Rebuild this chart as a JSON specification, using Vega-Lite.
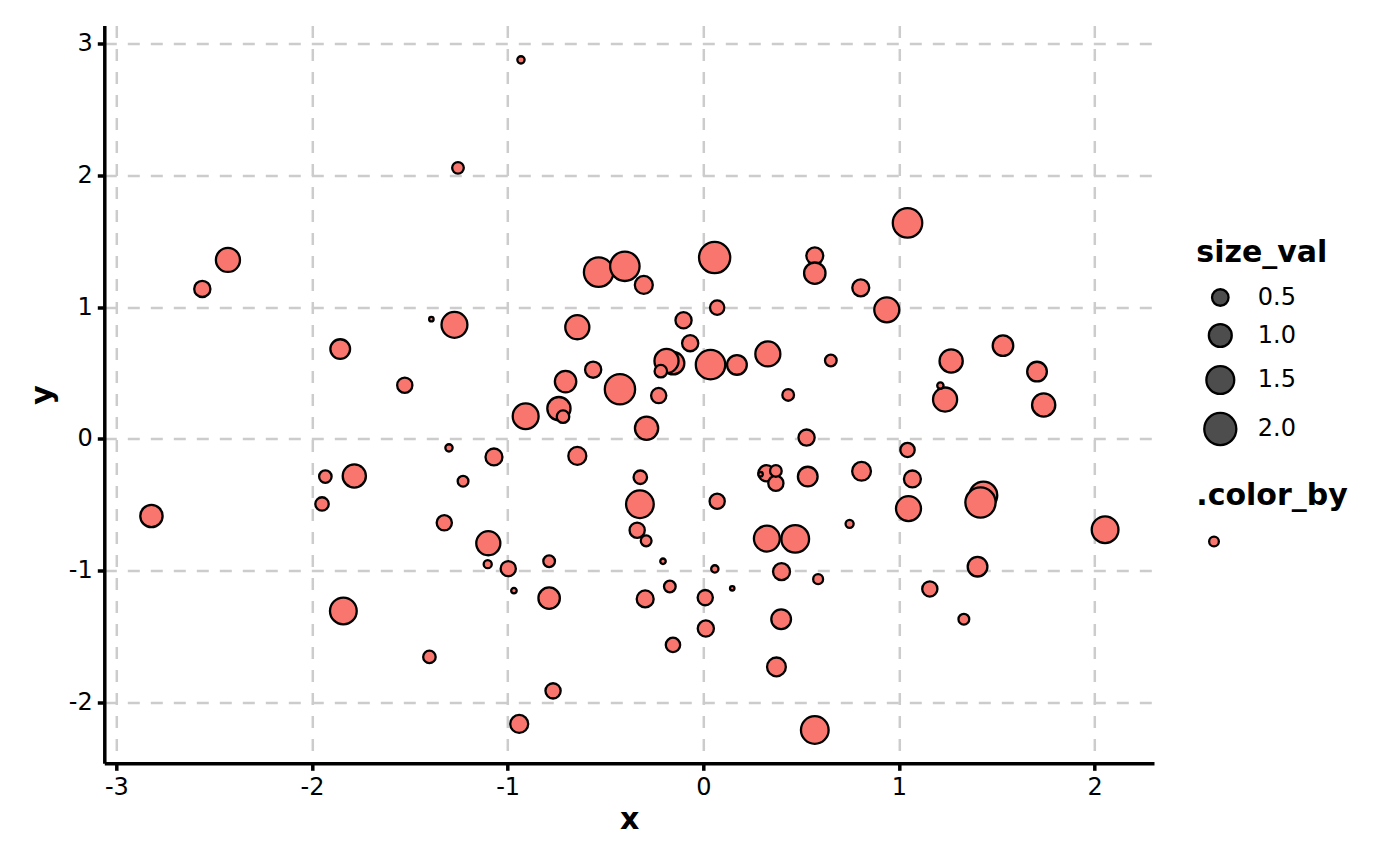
{
  "$schema": "https://vega.github.io/schema/vega-lite/v6.json",
  "width": 1049.7,
  "height": 737.8,
  "autosize": {"type": "none"},
  "padding": {"left": 104.3, "top": 25.5, "right": 246, "bottom": 102.7},
  "background": "white",
  "config": {"view": {"stroke": null}, "font": "DejaVu Sans"},
  "data": {"values": [
    {"x":-2.821,"y":-0.585,"size_val":0.95,"color_by":""},
    {"x":-2.561,"y":1.139,"size_val":0.48,"color_by":""},
    {"x":-2.430,"y":1.359,"size_val":1.11,"color_by":""},
    {"x":-1.856,"y":0.682,"size_val":0.73,"color_by":""},
    {"x":-1.526,"y":0.408,"size_val":0.42,"color_by":""},
    {"x":-1.932,"y":-0.286,"size_val":0.27,"color_by":""},
    {"x":-1.949,"y":-0.494,"size_val":0.32,"color_by":""},
    {"x":-1.784,"y":-0.281,"size_val":1.03,"color_by":""},
    {"x":-1.840,"y":-1.306,"size_val":1.38,"color_by":""},
    {"x":-1.254,"y":2.058,"size_val":0.23,"color_by":""},
    {"x":-0.932,"y":2.878,"size_val":0.065,"color_by":""},
    {"x":-1.390,"y":0.909,"size_val":0.0,"color_by":""},
    {"x":-1.272,"y":0.866,"size_val":1.29,"color_by":""},
    {"x":-1.300,"y":-0.068,"size_val":0.065,"color_by":""},
    {"x":-1.228,"y":-0.321,"size_val":0.19,"color_by":""},
    {"x":-1.324,"y":-0.637,"size_val":0.42,"color_by":""},
    {"x":-1.070,"y":-0.137,"size_val":0.53,"color_by":""},
    {"x":-1.400,"y":-1.655,"size_val":0.27,"color_by":""},
    {"x":-1.099,"y":-0.792,"size_val":1.11,"color_by":""},
    {"x":-1.102,"y":-0.951,"size_val":0.09,"color_by":""},
    {"x":-0.997,"y":-0.985,"size_val":0.42,"color_by":""},
    {"x":-0.968,"y":-1.152,"size_val":0.02,"color_by":""},
    {"x":-0.788,"y":-1.209,"size_val":0.87,"color_by":""},
    {"x":-0.788,"y":-0.929,"size_val":0.23,"color_by":""},
    {"x":-0.768,"y":-1.913,"size_val":0.42,"color_by":""},
    {"x":-0.941,"y":-2.164,"size_val":0.60,"color_by":""},
    {"x":-0.644,"y":-0.129,"size_val":0.60,"color_by":""},
    {"x":-0.290,"y":0.081,"size_val":1.03,"color_by":""},
    {"x":-0.908,"y":0.172,"size_val":1.29,"color_by":""},
    {"x":-0.322,"y":-0.291,"size_val":0.32,"color_by":""},
    {"x":-0.324,"y":-0.496,"size_val":1.48,"color_by":""},
    {"x":-0.338,"y":-0.693,"size_val":0.42,"color_by":""},
    {"x":-0.292,"y":-0.774,"size_val":0.19,"color_by":""},
    {"x":0.071,"y":-0.473,"size_val":0.42,"color_by":""},
    {"x":-0.206,"y":-0.929,"size_val":0.02,"color_by":""},
    {"x":-0.171,"y":-1.121,"size_val":0.23,"color_by":""},
    {"x":0.059,"y":-0.987,"size_val":0.065,"color_by":""},
    {"x":0.148,"y":-1.134,"size_val":0.0,"color_by":""},
    {"x":-0.297,"y":-1.215,"size_val":0.53,"color_by":""},
    {"x":0.010,"y":-1.205,"size_val":0.42,"color_by":""},
    {"x":0.013,"y":-1.440,"size_val":0.48,"color_by":""},
    {"x":-0.155,"y":-1.564,"size_val":0.37,"color_by":""},
    {"x":0.528,"y":0.010,"size_val":0.48,"color_by":""},
    {"x":1.044,"y":-0.084,"size_val":0.37,"color_by":""},
    {"x":0.323,"y":-0.261,"size_val":0.48,"color_by":""},
    {"x":0.293,"y":-0.268,"size_val":0.0,"color_by":""},
    {"x":0.371,"y":-0.337,"size_val":0.42,"color_by":""},
    {"x":0.371,"y":-0.243,"size_val":0.23,"color_by":""},
    {"x":0.534,"y":-0.286,"size_val":0.73,"color_by":""},
    {"x":0.809,"y":-0.246,"size_val":0.66,"color_by":""},
    {"x":1.069,"y":-0.304,"size_val":0.53,"color_by":""},
    {"x":1.432,"y":-0.429,"size_val":1.48,"color_by":""},
    {"x":1.417,"y":-0.483,"size_val":1.78,"color_by":""},
    {"x":1.049,"y":-0.529,"size_val":1.20,"color_by":""},
    {"x":0.748,"y":-0.645,"size_val":0.09,"color_by":""},
    {"x":0.325,"y":-0.757,"size_val":1.29,"color_by":""},
    {"x":0.470,"y":-0.759,"size_val":1.48,"color_by":""},
    {"x":0.400,"y":-1.008,"size_val":0.53,"color_by":""},
    {"x":0.587,"y":-1.065,"size_val":0.156,"color_by":""},
    {"x":1.402,"y":-0.970,"size_val":0.73,"color_by":""},
    {"x":1.158,"y":-1.139,"size_val":0.42,"color_by":""},
    {"x":1.332,"y":-1.369,"size_val":0.19,"color_by":""},
    {"x":0.398,"y":-1.369,"size_val":0.73,"color_by":""},
    {"x":0.374,"y":-1.731,"size_val":0.66,"color_by":""},
    {"x":0.570,"y":-2.210,"size_val":1.48,"color_by":""},
    {"x":2.054,"y":-0.689,"size_val":1.38,"color_by":""},
    {"x":-0.535,"y":1.266,"size_val":1.68,"color_by":""},
    {"x":-0.401,"y":1.311,"size_val":1.68,"color_by":""},
    {"x":-0.304,"y":1.169,"size_val":0.60,"color_by":""},
    {"x":0.058,"y":1.377,"size_val":1.89,"color_by":""},
    {"x":0.071,"y":0.997,"size_val":0.37,"color_by":""},
    {"x":-0.101,"y":0.901,"size_val":0.48,"color_by":""},
    {"x":-0.067,"y":0.727,"size_val":0.48,"color_by":""},
    {"x":-0.154,"y":0.575,"size_val":0.95,"color_by":""},
    {"x":-0.188,"y":0.592,"size_val":1.11,"color_by":""},
    {"x":-0.217,"y":0.514,"size_val":0.27,"color_by":""},
    {"x":0.037,"y":0.564,"size_val":1.68,"color_by":""},
    {"x":0.172,"y":0.562,"size_val":0.73,"color_by":""},
    {"x":-0.644,"y":0.848,"size_val":1.11,"color_by":""},
    {"x":-0.563,"y":0.526,"size_val":0.48,"color_by":""},
    {"x":-0.704,"y":0.435,"size_val":0.87,"color_by":""},
    {"x":-0.426,"y":0.377,"size_val":1.78,"color_by":""},
    {"x":-0.228,"y":0.329,"size_val":0.42,"color_by":""},
    {"x":-0.738,"y":0.230,"size_val":1.03,"color_by":""},
    {"x":-0.717,"y":0.169,"size_val":0.27,"color_by":""},
    {"x":1.044,"y":1.640,"size_val":1.68,"color_by":""},
    {"x":0.570,"y":1.390,"size_val":0.53,"color_by":""},
    {"x":0.570,"y":1.258,"size_val":0.87,"color_by":""},
    {"x":0.805,"y":1.147,"size_val":0.53,"color_by":""},
    {"x":0.938,"y":0.980,"size_val":1.20,"color_by":""},
    {"x":0.330,"y":0.645,"size_val":1.20,"color_by":""},
    {"x":0.652,"y":0.595,"size_val":0.23,"color_by":""},
    {"x":0.434,"y":0.334,"size_val":0.23,"color_by":""},
    {"x":1.267,"y":0.592,"size_val":1.03,"color_by":""},
    {"x":1.236,"y":0.299,"size_val":1.11,"color_by":""},
    {"x":1.212,"y":0.405,"size_val":0.04,"color_by":""},
    {"x":1.532,"y":0.708,"size_val":0.80,"color_by":""},
    {"x":1.706,"y":0.511,"size_val":0.73,"color_by":""},
    {"x":1.740,"y":0.258,"size_val":1.03,"color_by":""}
  ]},
  "mark": {"type": "point", "shape": "circle", "filled": true, "opacity": 1, "stroke": "black", "strokeWidth": 2.3},
  "encoding": {
    "x": {
      "field": "x", "type": "quantitative",
      "scale": {"domain": [-3.062, 2.304], "nice": false, "zero": false},
      "axis": {
        "values": [-3, -2, -1, 0, 1, 2],
        "labelExpr": "datum.value < 0 ? '-' + abs(datum.value) : '' + datum.value",
        "grid": true, "gridColor": "#CCCCCC", "gridDash": [12, 11], "gridWidth": 2.5,
        "domainColor": "black", "domainWidth": 3.5,
        "tickColor": "black", "tickWidth": 3.5, "tickSize": 7,
        "labelFontSize": 24, "labelColor": "black", "labelPadding": 5, "labelFlush": false, "labelOverlap": false,
        "title": "x", "titleFontSize": 30, "titleFontWeight": "bold", "titleColor": "black", "titlePadding": 5
      }
    },
    "y": {
      "field": "y", "type": "quantitative",
      "scale": {"domain": [-2.463, 3.139], "nice": false, "zero": false},
      "axis": {
        "values": [-2, -1, 0, 1, 2, 3],
        "labelExpr": "datum.value < 0 ? '-' + abs(datum.value) : '' + datum.value",
        "grid": true, "gridColor": "#CCCCCC", "gridDash": [12, 11], "gridWidth": 2.5,
        "domainColor": "black", "domainWidth": 3.5,
        "tickColor": "black", "tickWidth": 3.5, "tickSize": 7,
        "labelFontSize": 24, "labelColor": "black", "labelPadding": 5, "labelFlush": false, "labelOverlap": false,
        "title": "y", "titleFontSize": 30, "titleFontWeight": "bold", "titleColor": "black", "titlePadding": 11
      }
    },
    "size": {
      "field": "size_val", "type": "quantitative",
      "scale": {"domain": [0, 2.5], "range": [20, 1281], "zero": false, "nice": false},
      "legend": {
        "orient": "none", "legendX": 1092, "legendY": 212,
        "values": [0.5, 1.0, 1.5, 2.0], "format": ".1f",
        "title": "size_val", "titleFontSize": 30, "titleFontWeight": "bold", "titleColor": "black", "titlePadding": 18,
        "labelFontSize": 24, "labelColor": "black", "labelOffset": 20,
        "symbolFillColor": "#4D4D4D", "symbolStrokeColor": "black", "symbolStrokeWidth": 2.3, "symbolOffset": 6.5,
        "rowPadding": 8, "padding": 0,
        "symbolType": "circle",
        "encode": {"symbols": {"update": {"fill": {"value": "#4D4D4D"}, "stroke": {"value": "black"}, "opacity": {"value": 1}}}}
      }
    },
    "color": {
      "field": "color_by", "type": "nominal",
      "scale": {"range": ["#F8766D"]},
      "legend": {
        "orient": "none", "legendX": 1092, "legendY": 455,
        "title": ".color_by", "titleFontSize": 30, "titleFontWeight": "bold", "titleColor": "black", "titlePadding": 19,
        "labelFontSize": 24, "labelColor": "black",
        "symbolSize": 95, "symbolStrokeColor": "black", "symbolStrokeWidth": 2.3, "symbolOffset": 5.7, "symbolType": "circle",
        "padding": 0,
        "encode": {"symbols": {"update": {"stroke": {"value": "black"}, "opacity": {"value": 1}}}}
      }
    }
  }
}
